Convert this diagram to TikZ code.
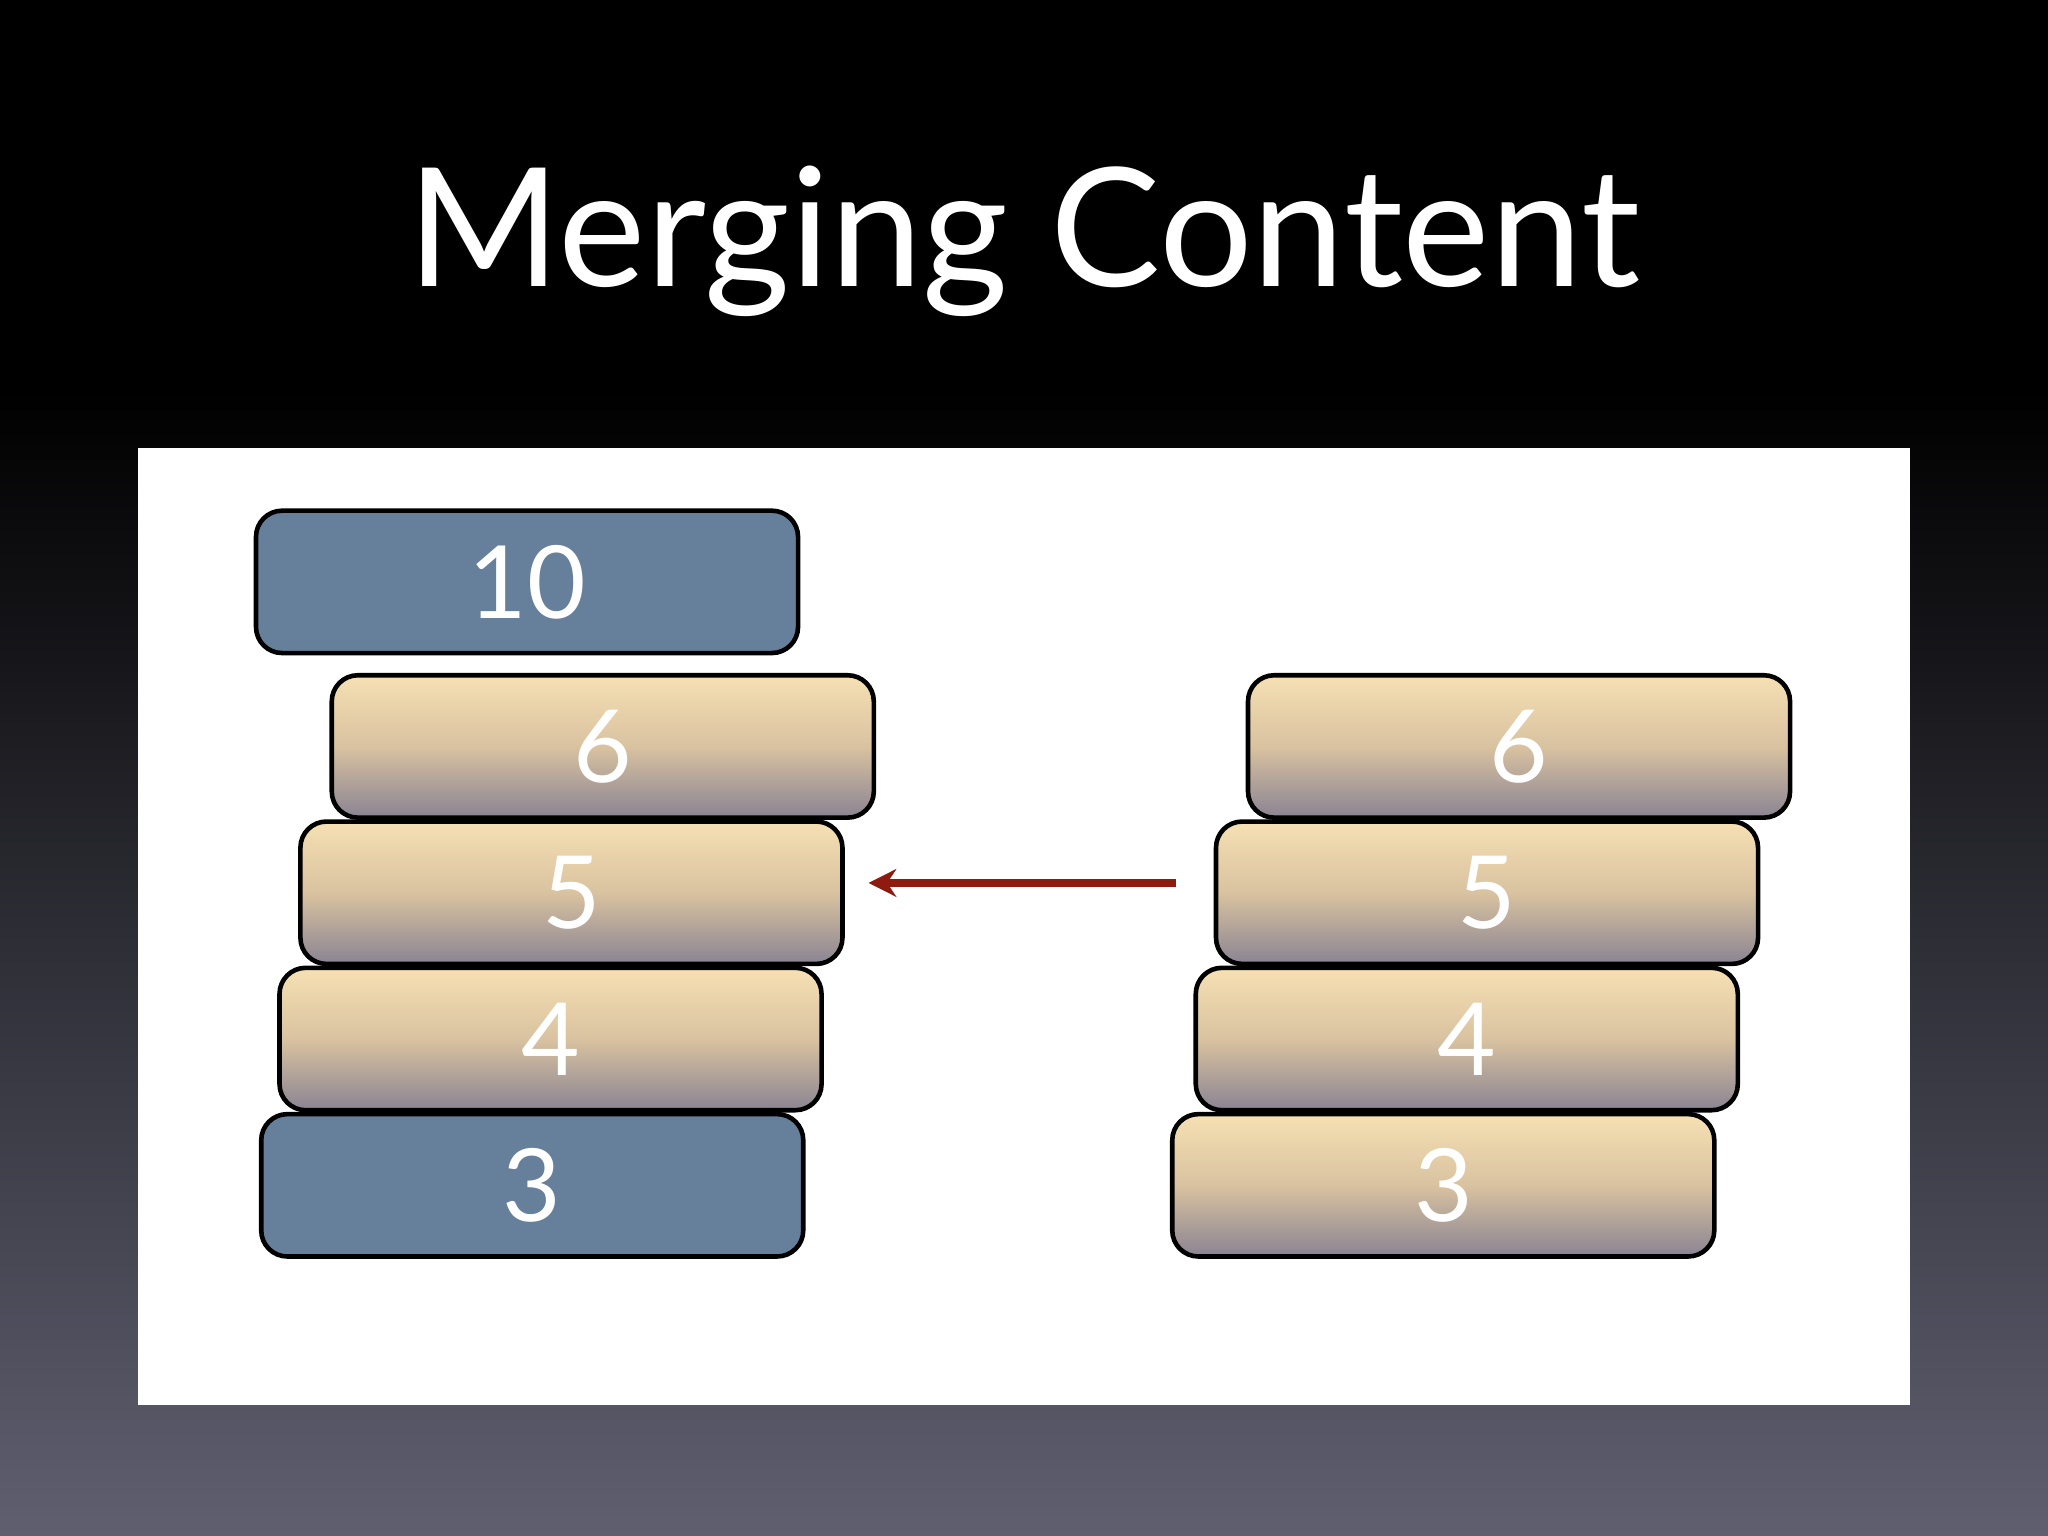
\documentclass[tikz,border=0pt]{standalone}
\usepackage{fontspec}
\setmainfont{Lato}
\begin{document}
\begin{tikzpicture}[x=1cm,y=1cm,
  blk/.style={draw=black,line width=1pt,rounded corners=0.2cm,minimum width=4.15cm,minimum height=1.09cm,inner sep=0pt,text=white,font=\fontsize{22}{24}\selectfont},
  tan/.style={blk,top color=tantop,bottom color=tanbot,middle color=tanmid},
  blu/.style={blk,fill=bluefill},
  arr/.style={draw=arrred,line width=1.6pt,-{Stealth[length=6pt,width=6pt]}}]
\usetikzlibrary{arrows.meta}
\definecolor{tantop}{HTML}{F6E0B3}
\definecolor{tanmid}{HTML}{D9C2A0}
\definecolor{tanbot}{HTML}{8A8493}
\definecolor{bluefill}{HTML}{667F9B}
\definecolor{arrred}{HTML}{8E1A10}
\definecolor{bgbot}{HTML}{5F5F70}
\useasboundingbox (0,0) rectangle (15.68,-11.76);
\fill[black] (0,0) rectangle (15.68,-3.0);
\shade[top color=black,bottom color=bgbot] (0,-3.0) rectangle (15.68,-11.76);
\node[text=white,font=\fontsize{36}{40}\selectfont] (title) at (7.84,-1.85) {Merging Content};
\fill[white] (1.06,-3.43) rectangle (14.62,-10.76);
\node[blu] (l10) at (4.035,-4.455) {10};
\node[tan] (l6) at (4.615,-5.715) {6};
\node[tan] (l5) at (4.375,-6.835) {5};
\node[tan] (l4) at (4.215,-7.955) {4};
\node[blu] (l3) at (4.075,-9.075) {3};
\node[tan] (r6) at (11.63,-5.715) {6};
\node[tan] (r5) at (11.385,-6.835) {5};
\node[tan] (r4) at (11.23,-7.955) {4};
\node[tan] (r3) at (11.05,-9.075) {3};
\coordinate (as) at (9.0,-6.76);
\coordinate (ae) at (6.65,-6.76);
\draw[arr] (as) -- (ae);
\end{tikzpicture}
\end{document}
